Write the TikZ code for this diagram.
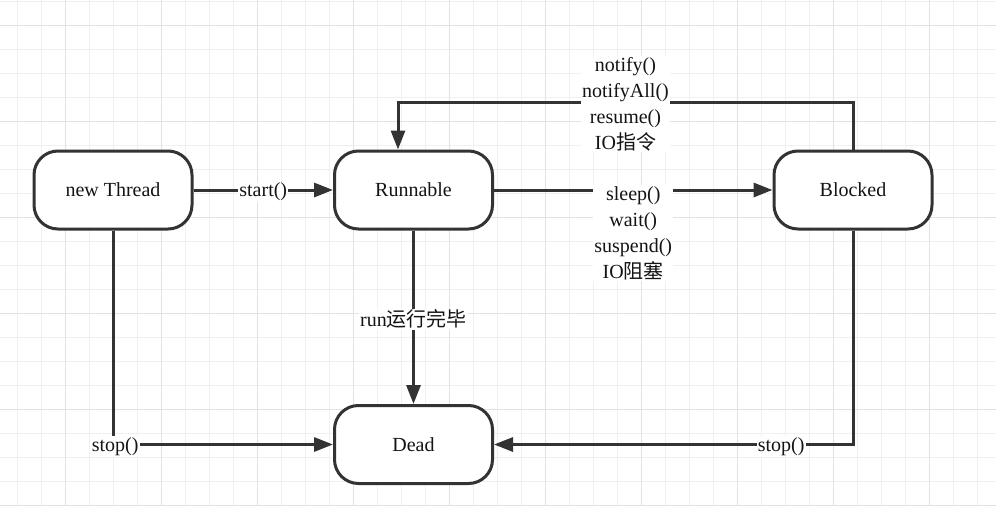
\documentclass[tikz,border=0pt]{standalone}
\usepackage{fontspec}
\setmainfont{Liberation Serif}
\newfontfamily\cjk{Noto Sans CJK SC}
\usepackage{xcolor}
\usepackage{tikz}
\usetikzlibrary{arrows.meta}
\definecolor{lineclr}{RGB}{51, 51, 51}
\definecolor{textclr}{RGB}{20, 20, 20}
\definecolor{gridlo}{RGB}{240, 240, 240}
\definecolor{gridhi}{RGB}{226, 226, 226}

\begin{document}
\begin{tikzpicture}[x = 1pt, y = -1pt,
	state/.style = {draw = lineclr, line width = 3pt, rounded corners = 24pt, fill = white,
		minimum width = 158pt, minimum height = 78pt, text = textclr,
		font = \fontsize{20}{26}\selectfont},
	conn/.style = {draw = lineclr, line width = 3pt, -{Triangle[length = 19pt, width = 14pt]}},
	lbl/.style = {fill = white, inner sep = 1pt, text = textclr, align = center,
		yshift = -2pt, font = \fontsize{20}{26}\selectfont},
	gridminor/.style = {gridlo, line width = 1pt},
	gridmajor/.style = {gridhi, line width = 1pt}]
			\useasboundingbox (0,0) rectangle (996,506);
			\fill[white] (0,0) rectangle (996,506);
			% background grid
			\foreach \gx in {17,41,...,996} \draw[gridminor] (\gx,0) -- (\gx,506);
			\foreach \gy in {1,25,...,506} \draw[gridminor] (0,\gy) -- (996,\gy);
			\foreach \gx in {65,161,...,996} \draw[gridmajor] (\gx,0) -- (\gx,506);
			\foreach \gy in {25,121,...,506} \draw[gridmajor] (0,\gy) -- (996,\gy);
			% states
			\node (newth) at (113,190) [state] {new Thread};
			\node (run) at (413.5,190) [state] {Runnable};
			\node (blk) at (853,190) [state] {Blocked};
			\node (dead) at (413.5,444.5) [state] {Dead};
			\coordinate (back) at (398,102);
			% transitions
			\draw[conn] (newth) -- node[lbl] {start()} (run);
			\draw[conn] (run) -- node[lbl, yshift = -41pt] {sleep()\\wait()\\suspend()\\IO{\cjk 阻塞}} (blk);
			\draw[conn] (blk.north) -- (blk.north |- back) -- node[lbl] {notify()\\notifyAll()\\resume()\\IO{\cjk 指令}} (back) -- (back |- run.north);
			\draw[conn] (run) -- node[lbl] {run{\cjk 运行完毕}} (dead);
			\draw[conn] (newth) |- node[lbl, pos = 0.505] {stop()} (dead);
			\draw[conn] (blk) |- node[lbl, pos = 0.6] {stop()} (dead);
\end{tikzpicture}
\end{document}
